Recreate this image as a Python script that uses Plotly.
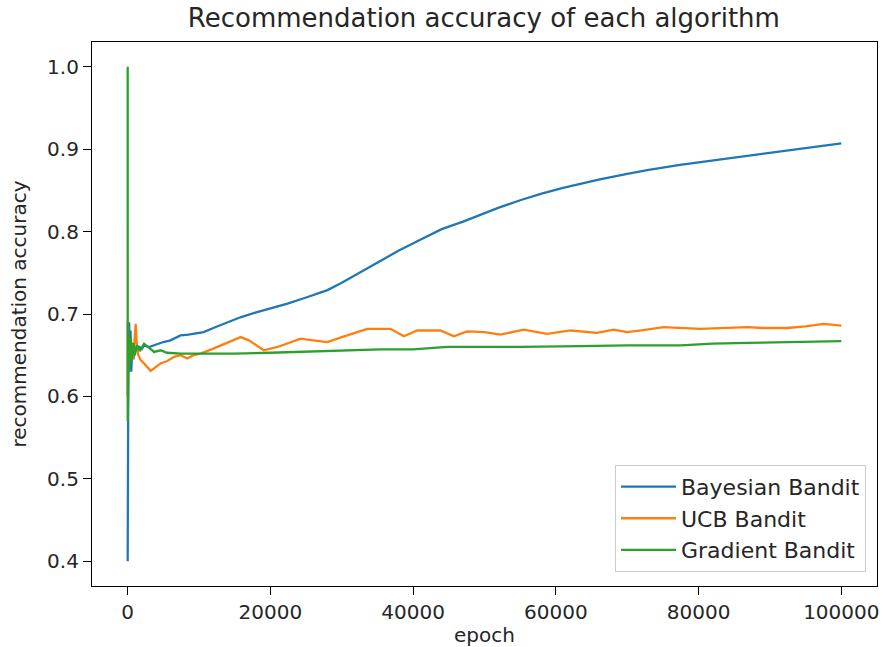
import plotly.graph_objects as go

# ---- data ----
bayes_x = [0, 20, 50, 100, 200, 300, 400, 500, 650, 800, 1000, 1300, 1600, 2000, 2300, 3000, 4000, 5000,
           6000, 7400, 8500, 10000, 10650, 12000, 14000, 15800, 18000, 20000, 22400, 25000, 28000, 30000,
           32000, 35400, 38000, 41000, 44000, 47000, 49400, 52000, 55000, 58000, 61000, 63400, 66000, 70000,
           73000, 77400, 80000, 84000, 88000, 91500, 95000, 100000]
bayes_y = [0.40, 0.55, 0.62, 0.66, 0.69, 0.64, 0.68, 0.63, 0.66, 0.645, 0.66, 0.655, 0.66, 0.658, 0.662, 0.66,
           0.663, 0.666, 0.668, 0.674, 0.675, 0.677, 0.678, 0.683, 0.69, 0.696, 0.702, 0.707, 0.7125, 0.72,
           0.729, 0.738, 0.748, 0.765, 0.777, 0.790, 0.803, 0.812, 0.820, 0.829, 0.838, 0.846, 0.853, 0.858,
           0.863, 0.870, 0.875, 0.881, 0.884, 0.889, 0.893, 0.897, 0.901, 0.907]

ucb_x = [0, 10, 30, 60, 100, 200, 300, 500, 700, 900, 1000, 1120, 1300, 1500, 1820, 2300, 3220, 3900, 4600,
         5560, 6500, 7420, 8360, 9200, 10220, 12000, 14000, 15830, 17000, 19070, 21000, 24230, 26000, 27970,
         30000, 32000, 33570, 36830, 38700, 40570, 43840, 45700, 47570, 50000, 52240, 55500, 58780, 62040,
         65780, 68100, 69980, 72000, 75120, 80250, 83000, 86790, 89000, 92380, 95000, 97520, 100000]
ucb_y = [0.60, 0.69, 0.61, 0.67, 0.64, 0.665, 0.65, 0.66, 0.645, 0.66, 0.67, 0.688, 0.66, 0.65, 0.644, 0.64,
         0.631, 0.635, 0.64, 0.643, 0.648, 0.650, 0.646, 0.65, 0.652, 0.658, 0.665, 0.672, 0.668, 0.656, 0.66,
         0.670, 0.668, 0.666, 0.672, 0.678, 0.682, 0.682, 0.673, 0.680, 0.680, 0.673, 0.679, 0.678, 0.675,
         0.681, 0.676, 0.680, 0.677, 0.681, 0.678, 0.680, 0.684, 0.682, 0.683, 0.684, 0.683, 0.683, 0.685,
         0.688, 0.686]

grad_x = [0, 5, 15, 30, 50, 80, 120, 180, 250, 350, 450, 600, 800, 1000, 1300, 1700, 2300, 2800, 3690, 4620,
          5500, 7420, 10000, 14900, 20000, 24230, 30000, 35430, 40000, 44770, 50000, 55000, 63440, 70000,
          77450, 82000, 86790, 92000, 100000]
grad_y = [1.0, 0.57, 0.75, 0.60, 0.70, 0.62, 0.68, 0.63, 0.672, 0.64, 0.67, 0.645, 0.665, 0.65, 0.662, 0.655,
          0.664, 0.66, 0.654, 0.656, 0.653, 0.652, 0.652, 0.652, 0.653, 0.654, 0.656, 0.657, 0.657, 0.660,
          0.660, 0.660, 0.661, 0.662, 0.662, 0.664, 0.665, 0.666, 0.667]

series_names = ["Bayesian Bandit", "UCB Bandit", "Gradient Bandit"]
series_colors = ["#1f77b4", "#ff7f0e", "#2ca02c"]

x_ticks = [0, 20000, 40000, 60000, 80000, 100000]
y_ticks = [0.4, 0.5, 0.6, 0.7, 0.8, 0.9, 1.0]
y_tick_labels = ["0.4", "0.5", "0.6", "0.7", "0.8", "0.9", "1.0"]

FONT = "DejaVu Sans"
TXT = "#262626"

fig = go.Figure()
for xs, ys, name, col in zip([bayes_x, ucb_x, grad_x], [bayes_y, ucb_y, grad_y], series_names, series_colors):
    fig.add_trace(go.Scatter(x=xs, y=ys, mode="lines", name=name,
                             line=dict(color=col, width=2.3)))

axis_common = dict(showline=True, linecolor="black", linewidth=1.2, mirror=True,
                   ticks="outside", ticklen=8, tickwidth=1.2, tickcolor="black",
                   showgrid=False, zeroline=False, automargin=False,
                   tickfont=dict(family=FONT, size=20, color=TXT))

fig.update_layout(
    width=883, height=647,
    paper_bgcolor="white", plot_bgcolor="white",
    margin=dict(l=92, r=6, t=42, b=61),
    title=dict(text="Recommendation accuracy of each algorithm", x=0.548, xanchor="center",
               yref="container", y=0.972, yanchor="middle",
               font=dict(family=FONT, size=26, color=TXT)),
    xaxis=dict(range=[-5000, 105000], tickvals=x_ticks, ticktext=[str(v) for v in x_ticks],
               title=dict(text="epoch", font=dict(family=FONT, size=20, color=TXT), standoff=6),
               **axis_common),
    yaxis=dict(range=[0.37, 1.03], tickvals=y_ticks, ticktext=y_tick_labels,
               title=dict(text="recommendation accuracy", font=dict(family=FONT, size=20, color=TXT),
                          standoff=15),
               **axis_common),
    legend=dict(x=0.986, y=0.026, xanchor="right", yanchor="bottom",
                bgcolor="rgba(255,255,255,0.8)", bordercolor="#cccccc", borderwidth=1,
                font=dict(family=FONT, size=22, color=TXT), itemwidth=55, tracegroupgap=2),
)

post = ("document.documentElement.style.margin='0';document.documentElement.style.overflow='hidden';"
        "document.body.style.margin='0';document.body.style.padding='0';document.body.style.overflow='hidden';")
fig.write_html("out.html", post_script=post, config={"displayModeBar": False})
